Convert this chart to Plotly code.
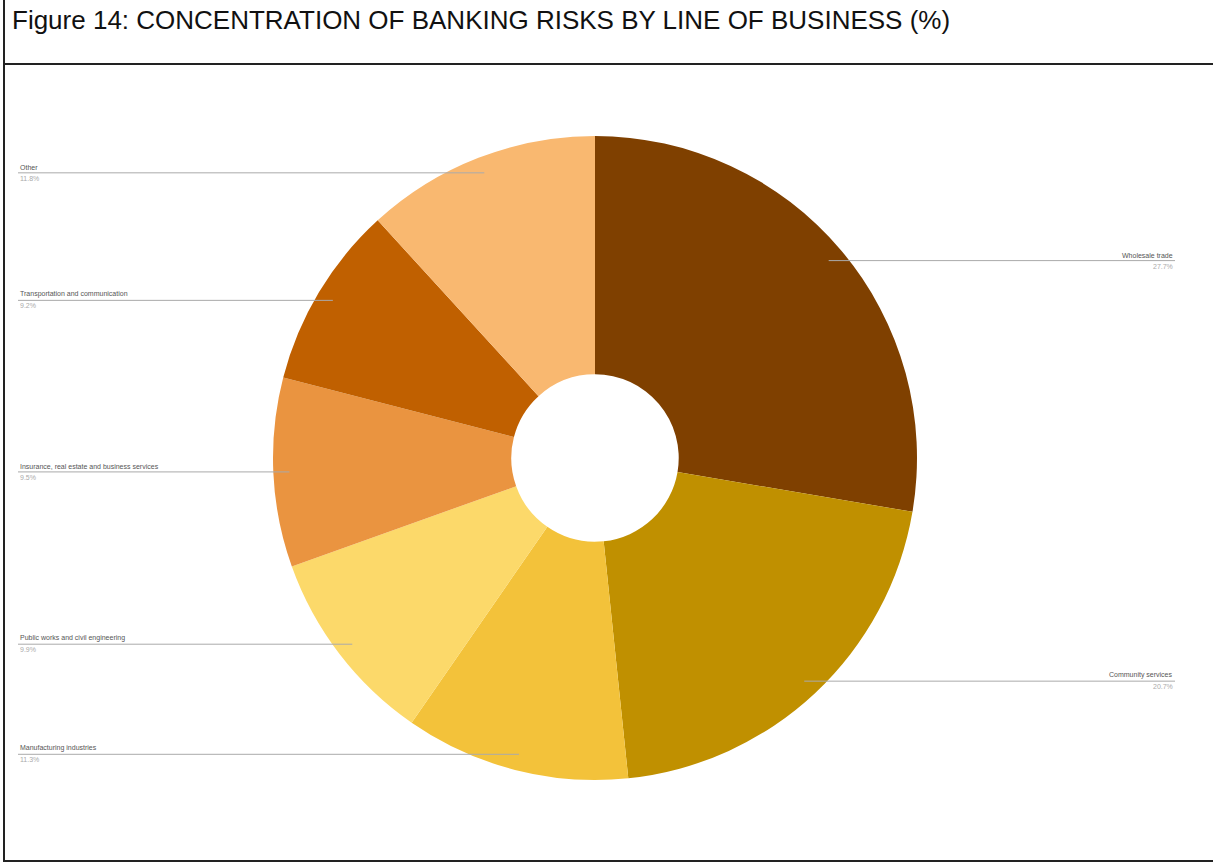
import math
import plotly.graph_objects as go

categories = ["Wholesale trade", "Community services", "Manufacturing industries",
              "Public works and civil engineering",
              "Insurance, real estate and business services",
              "Transportation and communication", "Other"]
values = [27.7, 20.7, 11.3, 9.9, 9.5, 9.2, 11.8]
colors = ["#7F4000", "#C09000", "#F3C23A", "#FCD96A", "#EA9440", "#C06000", "#F9B870"]
title = "Figure 14: CONCENTRATION OF BANKING RISKS BY LINE OF BUSINESS (%)"

W, H = 1213, 863
# pie placement (page pixels -> paper fractions)
CX, CY = 595, 458
R = 322  # px radius
dom_x = [(CX - R) / W, (CX + R) / W]
dom_y = [1 - (CY + R) / H, 1 - (CY - R) / H]

fig = go.Figure()
fig.add_trace(go.Pie(
    labels=categories, values=values, sort=False, direction="clockwise",
    rotation=0, hole=0.26,
    marker=dict(colors=colors, line=dict(width=0)),
    textinfo="none", hoverinfo="label+percent", showlegend=False,
    domain=dict(x=dom_x, y=dom_y),
))

shapes = []
annotations = []
total = sum(values)
cum = 0.0
for cat, v in zip(categories, values):
    mid = (cum + v / 2) / total * 2 * math.pi
    cum += v
    ax_px = CX + 0.95 * R * math.sin(mid)
    ay_px = CY - 0.95 * R * math.cos(mid)
    right = math.sin(mid) > 0
    xa = ax_px / W
    ya = 1 - ay_px / H
    if right:
        x0, x1 = xa, 1175 / W
        tx, anchor = 1175 / W, "right"
    else:
        x0, x1 = 18 / W, xa
        tx, anchor = 18 / W, "left"
    shapes.append(dict(type="line", xref="paper", yref="paper", x0=x0, x1=x1, y0=ya, y1=ya,
                       line=dict(color="#aaaaaa", width=1)))
    annotations.append(dict(xref="paper", yref="paper", x=tx, y=ya, text=cat,
                            xanchor=anchor, yanchor="bottom", showarrow=False,
                            font=dict(size=7, color="#555555", family="Liberation Sans")))
    annotations.append(dict(xref="paper", yref="paper", x=tx, y=ya, text=f"{v:.1f}%",
                            xanchor=anchor, yanchor="top", showarrow=False,
                            font=dict(size=7, color="#aaaaaa", family="Liberation Sans")))

# frame: outer border and title separator
shapes.append(dict(type="rect", xref="paper", yref="paper", x0=4 / W, x1=1.2, y0=1 - 861 / H, y1=1.2,
                   line=dict(color="#222222", width=2)))
shapes.append(dict(type="line", xref="paper", yref="paper", x0=4 / W, x1=1, y0=1 - 64 / H, y1=1 - 64 / H,
                   line=dict(color="#222222", width=2)))
annotations.append(dict(xref="paper", yref="paper", x=10 / W, y=1 - 3 / H, text=title,
                        xanchor="left", yanchor="top", showarrow=False,
                        font=dict(size=26, color="#111111", family="Liberation Sans")))

fig.update_layout(
    width=W, height=H, margin=dict(l=0, r=0, t=0, b=0),
    paper_bgcolor="white", plot_bgcolor="white",
    shapes=shapes, annotations=annotations,
)
fig.write_html("out.html", config={"displayModeBar": False},
               post_script="document.body.style.margin='0';")
